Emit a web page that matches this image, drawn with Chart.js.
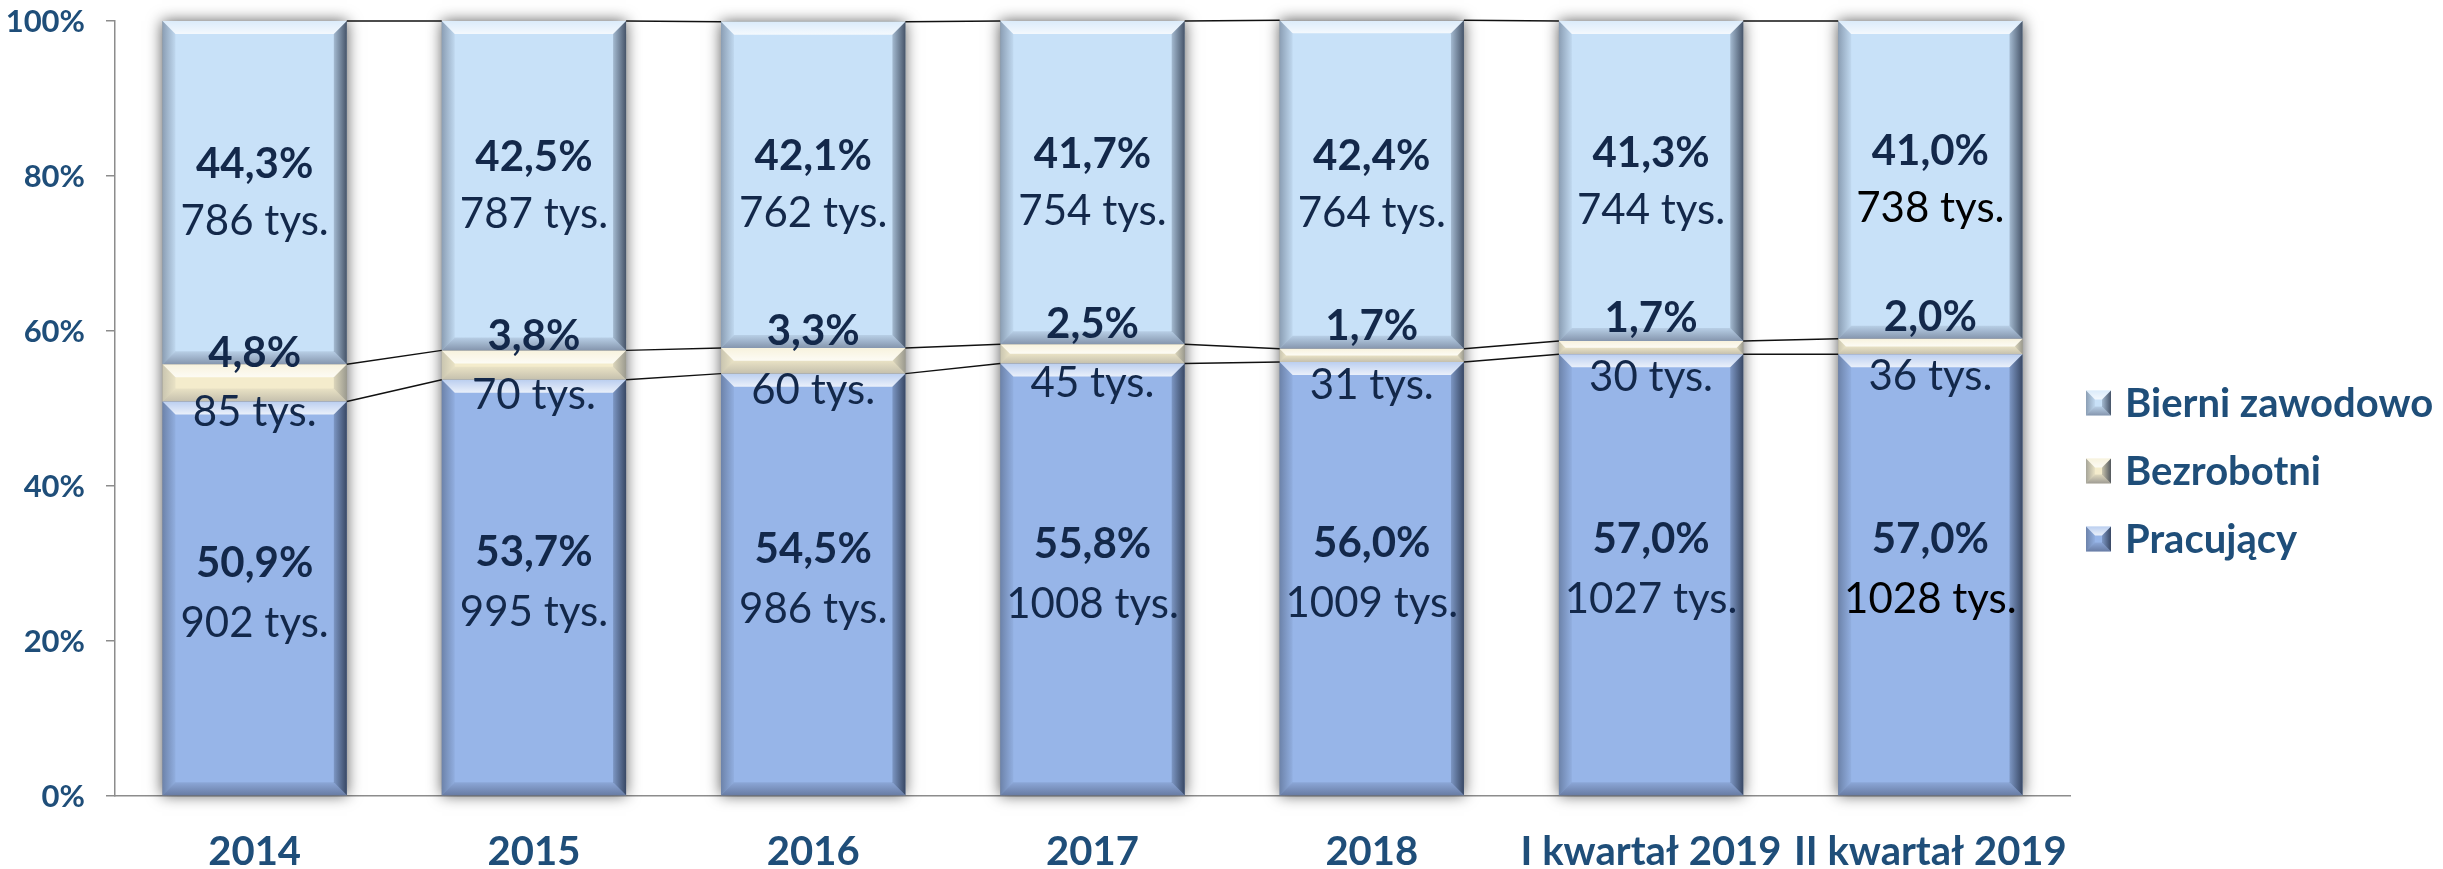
<!DOCTYPE html>
<html>
<head>
<meta charset="utf-8">
<script src="https://cdn.jsdelivr.net/npm/chart.js@4.4.0/dist/chart.umd.min.js"></script>
<style>
  body { margin: 0; background: #fff; }
  #wrap { width: 2443px; height: 869px; }
</style>
</head>
<body>
<div id="wrap"><canvas id="rynekPracyChart" width="2443" height="869"></canvas></div>
<script>
const categories = ['2014', '2015', '2016', '2017', '2018', 'I kwartał 2019', 'II kwartał 2019'];
const seriesNames = ['Pracujący', 'Bezrobotni', 'Bierni zawodowo'];

// udział w %
const pracujacyPct = [50.9, 53.7, 54.5, 55.8, 56.0, 57.0, 57.0];
const bezrobotniPct = [4.8, 3.8, 3.3, 2.5, 1.7, 1.7, 2.0];
const bierniPct = [44.3, 42.5, 42.1, 41.7, 42.4, 41.3, 41.0];

// liczba osób w tys.
const pracujacyTys = [902, 995, 986, 1008, 1009, 1027, 1028];
const bezrobotniTys = [85, 70, 60, 45, 31, 30, 36];
const bierniTys = [786, 787, 762, 754, 764, 744, 738];

const yTicks = [0, 20, 40, 60, 80, 100];

const colors = ['#97B5E8', '#F4ECCC', '#C8E1F8'];
const axisBlue = '#1F4E79';
const valueNavy = '#13284A';
const FONT = 'Lato, "Open Sans", sans-serif';

const pct = v => v.toFixed(1).replace('.', ',') + '%';
const tys = v => v + ' tys.';

function bevel(ctx, x0, y0, x1, y1, size, soft) {
  const b = Math.min(size, (y1 - y0) / 2, (x1 - x0) / 2);
  const k = soft ? 0.55 : 1;
  const poly = (pts, fill) => {
    ctx.beginPath();
    ctx.moveTo(pts[0][0], pts[0][1]);
    for (let i = 1; i < pts.length; i++) ctx.lineTo(pts[i][0], pts[i][1]);
    ctx.closePath();
    ctx.fillStyle = fill;
    ctx.fill();
  };
  let g = ctx.createLinearGradient(0, y0, 0, y0 + b);
  g.addColorStop(0, 'rgba(255,255,255,0.35)');
  g.addColorStop(1, 'rgba(255,255,255,0.8)');
  poly([[x0, y0], [x1, y0], [x1 - b, y0 + b], [x0 + b, y0 + b]], g);
  g = ctx.createLinearGradient(0, y1 - b, 0, y1);
  g.addColorStop(0, `rgba(40,45,70,${0.1 * k})`);
  g.addColorStop(1, `rgba(40,45,70,${0.42 * k})`);
  poly([[x0, y1], [x1, y1], [x1 - b, y1 - b], [x0 + b, y1 - b]], g);
  g = ctx.createLinearGradient(x0, 0, x0 + b, 0);
  g.addColorStop(0, `rgba(40,50,70,${0.38 * k})`);
  g.addColorStop(1, 'rgba(40,50,70,0.05)');
  poly([[x0, y0], [x0 + b, y0 + b], [x0 + b, y1 - b], [x0, y1]], g);
  g = ctx.createLinearGradient(x1 - b, 0, x1, 0);
  g.addColorStop(0, `rgba(20,30,50,${0.2 * k})`);
  g.addColorStop(1, `rgba(20,30,50,${0.72 * k})`);
  poly([[x1, y0], [x1 - b, y0 + b], [x1 - b, y1 - b], [x1, y1]], g);
}

const effects = {
  id: 'effects',
  beforeDatasetsDraw(chart) {
    const ctx = chart.ctx;
    const bottom = chart.getDatasetMeta(0).data;
    const top = chart.getDatasetMeta(2).data;
    ctx.save();
    ctx.shadowColor = 'rgba(0,0,0,0.65)';
    ctx.shadowBlur = 14;
    ctx.fillStyle = '#777';
    bottom.forEach((bar, i) => {
      const w = bar.width;
      ctx.fillRect(bar.x - w / 2, top[i].y, w, bar.base - top[i].y);
    });
    ctx.restore();
  },
  afterDatasetsDraw(chart) {
    const ctx = chart.ctx;
    const metas = [0, 1, 2].map(i => chart.getDatasetMeta(i));
    ctx.save();
    // bevel on every segment
    metas.forEach((m, k) => m.data.forEach(bar => {
      const w = bar.width;
      bevel(ctx, bar.x - w / 2, Math.min(bar.y, bar.base), bar.x + w / 2, Math.max(bar.y, bar.base), 13, k === 1);
    }));
    // series lines between the stacks
    ctx.strokeStyle = '#111';
    ctx.lineWidth = 1.5;
    metas.forEach(m => {
      for (let i = 0; i < m.data.length - 1; i++) {
        const a = m.data[i], b = m.data[i + 1];
        ctx.beginPath();
        ctx.moveTo(a.x + a.width / 2, a.y);
        ctx.lineTo(b.x - b.width / 2, b.y);
        ctx.stroke();
      }
    });
    // value labels: % (bold) above, tys. below
    ctx.textAlign = 'center';
    ctx.textBaseline = 'middle';
    const pctData = [pracujacyPct, bezrobotniPct, bierniPct];
    const tysData = [pracujacyTys, bezrobotniTys, bierniTys];
    const offUp = [35, 29, 28];
    const offDown = [25, 30, 29];
    const last = categories.length - 1;
    metas.forEach((m, k) => m.data.forEach((bar, i) => {
      const cy = (bar.y + bar.base) / 2;
      ctx.fillStyle = valueNavy;
      ctx.font = 'bold 42px ' + FONT;
      ctx.fillText(pct(pctData[k][i]), bar.x, cy - offUp[k]);
      // last column's tys. labels are black in the source
      ctx.fillStyle = (i === last && k !== 1) ? '#000' : valueNavy;
      ctx.font = '42px ' + FONT;
      ctx.fillText(tys(tysData[k][i]), bar.x, cy + offDown[k]);
    }));
    ctx.restore();
  },
  afterDraw(chart) {
    const ctx = chart.ctx;
    ctx.save();
    // y tick labels
    const ys = chart.scales.y;
    ctx.fillStyle = axisBlue;
    ctx.font = 'bold 31px ' + FONT;
    ctx.textAlign = 'right';
    ctx.textBaseline = 'middle';
    yTicks.forEach(v => ctx.fillText(v + '%', ys.right - 30, ys.getPixelForValue(v) + 1));
    // legend, reversed order as in the source
    const x = chart.chartArea.right + 16;
    const y0 = 403, step = 68, s = 25;
    const ds = chart.data.datasets.slice().reverse();
    ds.forEach((d, i) => {
      const y = y0 + i * step;
      ctx.fillStyle = d.backgroundColor;
      ctx.fillRect(x, y - s / 2, s, s);
      bevel(ctx, x, y - s / 2, x + s, y + s / 2, 9, false);
      ctx.fillStyle = axisBlue;
      ctx.font = 'bold 40px ' + FONT;
      ctx.textAlign = 'left';
      ctx.fillText(d.label, x + s + 14, y + 1);
    });
    ctx.restore();
  }
};

const ctx = document.getElementById('rynekPracyChart').getContext('2d');
new Chart(ctx, {
  type: 'bar',
  data: {
    labels: categories,
    datasets: [
      { label: seriesNames[0], data: pracujacyPct, backgroundColor: colors[0] },
      { label: seriesNames[1], data: bezrobotniPct, backgroundColor: colors[1] },
      { label: seriesNames[2], data: bierniPct, backgroundColor: colors[2] }
    ]
  },
  options: {
    responsive: false,
    animation: false,
    devicePixelRatio: 1,
    layout: { padding: { top: 21, right: 373, left: 0, bottom: 0 } },
    datasets: { bar: { categoryPercentage: 1, barPercentage: 0.66, borderWidth: 0 } },
    plugins: {
      legend: { display: false },
      tooltip: { enabled: false }
    },
    scales: {
      x: {
        stacked: true,
        afterFit: s => { s.height = 73; s.paddingLeft = 0; s.paddingRight = 0; },
        grid: { display: false },
        border: { display: true, color: '#8c8c8c', width: 1.5 },
        ticks: {
          color: axisBlue,
          font: { family: FONT, size: 40, weight: 'bold' },
          padding: 24,
          maxRotation: 0,
          autoSkip: false
        }
      },
      y: {
        stacked: true,
        min: 0,
        max: 100,
        afterFit: s => { s.width = 115; s.paddingTop = 0; s.paddingBottom = 0; },
        afterBuildTicks: s => { s.ticks = yTicks.map(v => ({ value: v })); },
        grid: { drawOnChartArea: false, drawTicks: true, tickLength: 9, color: '#8c8c8c', lineWidth: 1.5 },
        border: { display: true, color: '#8c8c8c', width: 1.5 },
        ticks: { display: false }
      }
    }
  },
  plugins: [effects]
});
</script>
</body>
</html>
